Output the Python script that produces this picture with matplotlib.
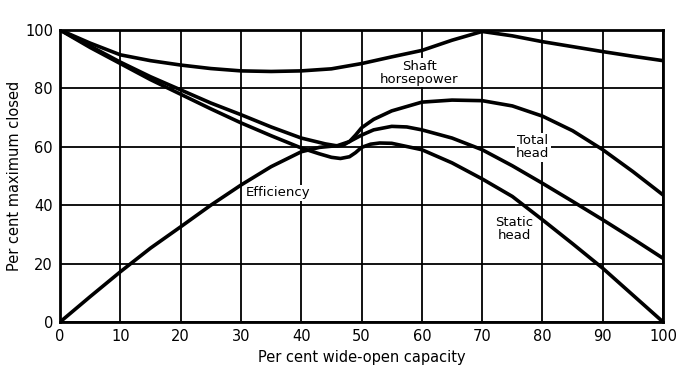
import matplotlib.pyplot as plt

# values (per cent)
x_shp = [0, 5, 10, 15, 20, 25, 30, 35, 40, 45, 50, 55, 60, 65, 70, 75, 80, 85, 90, 95, 100]
shaft_hp = [100, 95.5, 91.5, 89.5, 88, 86.8, 86, 85.8, 86, 86.7, 88.5, 90.8, 93, 96.5, 99.5, 98, 96, 94.3, 92.6, 91, 89.5]

x_total = [0, 5, 10, 15, 20, 25, 30, 35, 40, 44, 46, 47, 48, 49, 50, 52, 55, 60, 65, 70, 75, 80, 85, 90, 95, 100]
total_head = [100, 94.5, 89, 84, 79.5, 75, 71, 66.8, 63, 61, 60.3, 60.6, 61.8, 64, 66.5, 69.4, 72.3, 75.3, 76, 75.8, 74, 70.5, 65.5, 59, 51.5, 43.5]

x_static = [0, 5, 10, 15, 20, 25, 30, 35, 40, 43, 45, 46.5, 48, 49, 50, 51.5, 53, 55, 60, 65, 70, 75, 80, 85, 90, 95, 100]
static_head = [100, 94, 88.5, 83, 78, 73, 68.2, 63.8, 59.6, 57.6, 56.4, 56, 56.6, 58, 59.8, 60.9, 61.3, 61.2, 59, 54.5, 49, 43, 35, 26.8, 18.4, 9.2, 0]

x_eff = [0, 5, 10, 15, 20, 25, 30, 35, 40, 43, 46, 48, 50, 52, 55, 57.5, 60, 65, 70, 75, 80, 85, 90, 95, 100]
efficiency = [0, 8.7, 17.2, 25.3, 32.6, 40, 46.9, 53.2, 58.3, 59.8, 60.4, 61.8, 64, 65.8, 67, 66.8, 65.8, 63, 59, 53.5, 47.5, 41.3, 35, 28.5, 21.8]

fig = plt.figure(figsize=(6.98, 3.75), dpi=100)
ax = fig.add_axes([0.086, 0.1413, 0.864, 0.7787])

for xs, ys in [(x_shp, shaft_hp), (x_total, total_head), (x_static, static_head), (x_eff, efficiency)]:
    ax.plot(xs, ys, color='black', lw=2.6, solid_capstyle='round', solid_joinstyle='round', zorder=3)

ax.set_xlim(0, 100)
ax.set_ylim(0, 100)
ax.set_xticks(range(0, 101, 10))
ax.set_yticks(range(0, 101, 20))
ax.grid(True, color='black', lw=1.3)
ax.tick_params(length=0, labelsize=10.5, pad=5)
for s in ax.spines.values():
    s.set_linewidth(2)

ax.set_xlabel('Per cent wide-open capacity', fontsize=10.5, labelpad=4)
ax.set_ylabel('Per cent maximum closed', fontsize=10.5, labelpad=2)

box = dict(facecolor='white', edgecolor='none', pad=1)
ax.text(59.6, 85.4, 'Shaft\nhorsepower', ha='center', va='center', fontsize=9.5, linespacing=1.0, bbox=box, zorder=2.5)
ax.text(78.4, 59.8, 'Total\nhead', ha='center', va='center', fontsize=9.5, linespacing=1.0, bbox=box, zorder=2.5)
ax.text(75.3, 31.8, 'Static\nhead', ha='center', va='center', fontsize=9.5, linespacing=1.0, bbox=box, zorder=2.5)
ax.text(36.2, 44.2, 'Efficiency', ha='center', va='center', fontsize=9.5, bbox=box, zorder=2.5)

fig.savefig('out.png', dpi=100)
